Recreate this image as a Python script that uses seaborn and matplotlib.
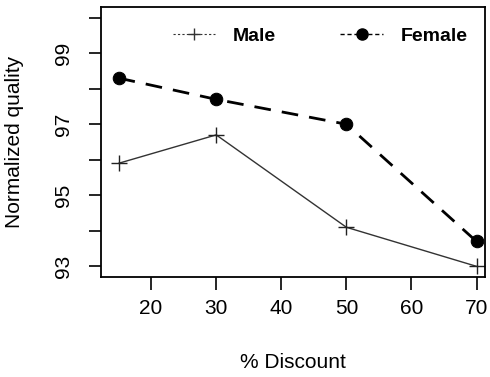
import matplotlib
matplotlib.use("Agg")
import matplotlib.pyplot as plt
import seaborn as sns
import pandas as pd
from matplotlib.lines import Line2D

discount = [15, 30, 50, 70]
male = [95.9, 96.7, 94.1, 93.0]
female = [98.3, 97.7, 97.0, 93.7]
xticks = [20, 30, 40, 50, 60, 70]
yticks = [93, 94, 95, 96, 97, 98, 99, 100]
ylabels = ["93", "", "95", "", "97", "", "99", ""]

sns.set_style("ticks")
plt.rcParams['font.family'] = ['Liberation Sans', 'DejaVu Sans']
plt.rcParams['text.color'] = 'black'
plt.rcParams['axes.labelcolor'] = 'black'

df_m = pd.DataFrame({"Discount": discount, "Quality": male})
df_f = pd.DataFrame({"Discount": discount, "Quality": female})

fig = plt.figure(figsize=(4.9, 3.77), dpi=100)
ax = fig.add_axes([101/490, 1 - 277/377, (485-101)/490, (277-7)/377])

sns.lineplot(data=df_m, x="Discount", y="Quality", ax=ax, color="#333333",
             linewidth=1.0, marker="+", markersize=12, markeredgewidth=1.0,
             markeredgecolor="#222222")
sns.lineplot(data=df_f, x="Discount", y="Quality", ax=ax, color="black",
             linewidth=2.0, linestyle=(0, (6, 4)), marker="o", markersize=9,
             markeredgecolor="black", markerfacecolor="black")

ax.set_xlim(12.3, 71.3)
ax.set_ylim(92.7, 100.3)
ax.set_xticks(xticks)
ax.set_xticklabels([str(t) for t in xticks], fontsize=15)
ax.set_yticks(yticks)
ax.set_yticklabels(ylabels, fontsize=15, rotation=90, va="center")
ax.tick_params(axis="both", direction="out", length=9, width=1.2, colors="black")
ax.tick_params(axis="x", pad=7)
ax.tick_params(axis="y", pad=11)
for s in ax.spines.values():
    s.set_visible(True)
    s.set_linewidth(1.3)
    s.set_color("black")

ax.set_xlabel("% Discount", fontsize=15, labelpad=25)
ax.set_ylabel("Normalized quality", fontsize=15, labelpad=22)

handles = [
    Line2D([], [], color="#333333", linewidth=0.8, linestyle=(0, (2, 2)), marker="+",
           markersize=9, markeredgewidth=1.0),
    Line2D([], [], color="black", linewidth=1.0, linestyle=(0, (3, 2)), marker="o",
           markersize=8),
]
ax.legend(handles, ["Male", "Female"], ncol=2, frameon=False, loc="upper right",
          bbox_to_anchor=(1.0, 0.99), prop={"weight": "bold", "size": 14},
          handlelength=2.2, columnspacing=3.3, handletextpad=0.9)

fig.savefig("out.png", dpi=100)
